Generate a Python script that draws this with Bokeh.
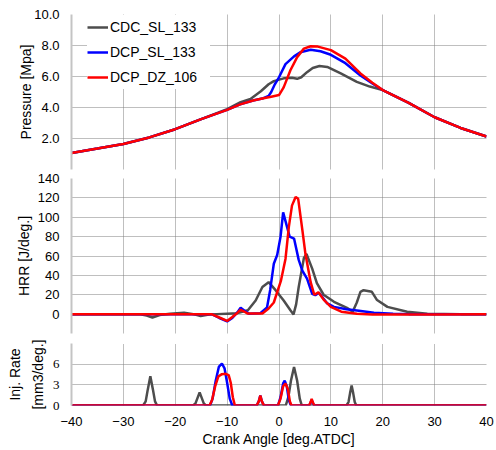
from bokeh.plotting import figure
from bokeh.layouts import column
from bokeh.models import Range1d, FixedTicker, Legend, LegendItem
from bokeh.embed import file_html
from bokeh.resources import INLINE

# ---------------- data ----------------
series_names = ["CDC_SL_133", "DCP_SL_133", "DCP_DZ_106"]
series_colors = ["#4d4d4d", "#0000ff", "#ff0000"]

x_ticks = [-40, -30, -20, -10, 0, 10, 20, 30, 40]

# Pressure [MPa]
cdc_p_ang = [-40, -35, -30, -25, -20, -15, -10, -7.4, -5.5, -3.5, -2, -1, 0.9, 2.5, 3.5,
             4.3, 5.4, 6.5, 7.8, 9.3, 11.9, 15, 17.5, 20, 25, 30, 35, 40]
cdc_p = [1.07, 1.35, 1.65, 2.07, 2.6, 3.25, 3.9, 4.35, 4.55, 5.05, 5.5, 5.7, 5.88, 5.92, 5.85,
         5.95, 6.28, 6.55, 6.68, 6.62, 6.2, 5.65, 5.35, 5.12, 4.3, 3.37, 2.68, 2.13]

dcp_p_ang = [-40, -35, -30, -25, -20, -15, -10, -7.5, -5, -3, -2, -1.5, -0.8, 0, 1.25, 2.9,
             4.1, 6.1, 8, 10, 12.8, 15.7, 18, 20, 25, 30, 35, 40]
dcp_p = [1.07, 1.35, 1.65, 2.07, 2.6, 3.25, 3.85, 4.2, 4.45, 4.6, 4.75, 5.0, 5.5, 5.95, 6.8, 7.3,
         7.57, 7.72, 7.63, 7.4, 6.86, 6.06, 5.55, 5.12, 4.3, 3.37, 2.68, 2.13]

dz_p_ang = [-40, -35, -30, -25, -20, -15, -10, -7.5, -5, -3, -1.5, 0, 0.9, 2.2, 3.5, 4.8,
            6.1, 7.5, 10, 12.8, 15.7, 18, 20, 25, 30, 35, 40]
dz_p = [1.07, 1.35, 1.65, 2.07, 2.6, 3.25, 3.85, 4.2, 4.45, 4.6, 4.7, 4.8, 5.3, 6.4, 7.25, 7.8,
        7.95, 7.93, 7.7, 7.15, 6.2, 5.6, 5.12, 4.3, 3.37, 2.68, 2.13]

p_ticks = [0, 2, 4, 6, 8, 10]
p_tick_labels = ["", "2.0", "4.0", "6.0", "8.0", "10.0"]

# Heat release rate [J/deg]
cdc_h_ang = [-40, -27, -25.5, -24.4, -23, -21, -18.3, -16.5, -15.1, -13.5, -12, -10, -8, -6,
             -4.5, -3.2, -2, -0.7, 0.9, 2.2, 2.8, 3.3, 3.8, 4.8, 5.3, 6.4, 7.3, 8.6, 10.6,
             13.1, 14.2, 15.0, 15.7, 16.3, 17.9, 18.9, 20.9, 24.7, 28.6, 35, 40]
cdc_h = [0, 0, -1.5, -3.5, -1, 0.5, 1.5, 0, -2, -0.5, 0, 0.5, 1, 4,
         14, 28, 33, 25, 14, 4, -0.3, 10, 28, 58, 62, 47, 32, 20, 12.7,
         6.5, 2.5, 12, 23, 24.7, 23, 14.5, 7.5, 2.4, 0.5, 0, 0]

dcp_h_ang = [-40, -13, -11.5, -10, -9, -8, -7.4, -6.5, -5.8, -3.6, -2.3, -1.7, -1.0, -0.35,
             0.3, 0.8, 1.55, 2.05, 2.9, 3.8, 4.5, 5.4, 6.4, 7.0, 7.7, 9.3, 10.6, 13, 15.4,
             18.3, 22, 25, 40]
dcp_h = [0, 0, -4, -7.5, -4, 2, 6.5, 3, 0.5, 1, 7, 25, 52, 61,
         80, 105, 90, 80, 78, 56, 45, 36.7, 21, 19.5, 22, 11, 7.5, 5, 3.5,
         1.5, 0.5, 0, 0]

dz_h_ang = [-40, -13, -11.5, -10, -9, -8, -7.4, -6.5, -6.1, -3.2, -2, -1, 0.35, 1.25, 1.9,
            2.5, 3.2, 3.7, 4.5, 5.1, 6.1, 6.8, 7.6, 8.6, 10, 12, 15, 18, 25, 30, 40]
dz_h = [0, 0, -3.5, -7, -3, 1.5, 4.5, 2, 0.7, 0.7, 5.8, 12, 34, 57, 90,
        112, 121, 119, 87, 62, 33, 20, 22.5, 15, 7.5, 2.5, 0.3, -0.5, -0.5, -0.3, 0]

h_ticks = [-20, 0, 20, 40, 60, 80, 100, 120, 140]
h_tick_labels = ["", "0", "20", "40", "60", "80", "100", "120", "140"]

# Injection rate [mm3/deg]
cdc_i_ang = [-40, -26.2, -25.7, -25.3, -24.8, -24.3, -23.9, -23.5,
             -16.6, -16.1, -15.7, -15.3, -14.9, -14.5, -14.1,
             1.3, 1.8, 2.3, 2.9, 3.5, 4.0, 4.4,
             13.0, 13.4, 13.7, 14.0, 14.3, 14.6, 14.9, 40]
cdc_i = [0, 0, 0.6, 2.3, 4.25, 2.3, 0.6, 0,
         0, 0.3, 1.1, 1.9, 1.1, 0.3, 0,
         0, 1.2, 3.6, 5.6, 3.6, 1.0, 0,
         0, 0.5, 1.8, 2.9, 1.8, 0.5, 0, 0]

dcp_i_ang = [-40, -13.3, -12.8, -12.2, -11.6, -11.0, -10.5, -10.0, -9.5, -9.0,
             -4.3, -3.9, -3.6, -3.3, -2.9,
             -0.2, 0.3, 0.8, 1.1, 1.5, 1.9, 2.3,
             5.8, 6.1, 6.3, 6.5, 6.8, 40]
dcp_i = [0, 0, 1.0, 3.6, 5.6, 6.1, 5.4, 3.3, 1.0, 0,
         0, 0.6, 1.45, 0.6, 0,
         0, 1.2, 3.2, 3.6, 2.8, 0.8, 0,
         0, 0.4, 0.8, 0.4, 0, 0]

dz_i_ang = [-40, -13.4, -12.9, -12.3, -11.7, -11.0, -10.3, -9.7, -9.3, -8.9, -8.5,
            -4.3, -3.9, -3.6, -3.3, -2.9,
            -0.2, 0.3, 0.8, 1.25, 1.7, 2.1, 2.4,
            5.8, 6.1, 6.3, 6.5, 6.8, 40]
dz_i = [0, 0, 0.8, 2.8, 4.2, 4.55, 4.6, 4.4, 3.3, 1.2, 0,
        0, 0.6, 1.45, 0.6, 0,
        0, 1.0, 2.8, 3.2, 2.4, 0.6, 0,
        0, 0.5, 0.95, 0.5, 0, 0]

i_ticks = [0, 3, 6, 9]
i_tick_labels = ["0", "3", "6", ""]

# ---------------- styling ----------------
FONT = "Liberation Sans"
GRID_COLOR = "#7f7f7f"
LW = 2.5


def make_panel(height, y_range, y_ticks, y_labels, y_label, top, bottom,
               with_x=False, label_standoff=4, tick_font=FONT, label_line_height=1.2):
    p = figure(width=496, height=height,
               x_range=Range1d(-40, 40), y_range=Range1d(*y_range),
               output_backend="svg", toolbar_location=None,
               x_axis_location="below" if with_x else None,
               min_border_left=71, min_border_right=10,
               min_border_top=top, min_border_bottom=bottom)
    p.outline_line_color = None
    p.background_fill_color = "white"
    p.border_fill_color = "white"

    p.xgrid.ticker = FixedTicker(ticks=x_ticks)
    p.ygrid.ticker = FixedTicker(ticks=y_ticks)
    for g in (p.xgrid, p.ygrid):
        g.grid_line_color = GRID_COLOR
        g.grid_line_dash = "1 1"
        g.grid_line_width = 1

    ax = p.yaxis[0]
    ax.ticker = FixedTicker(ticks=y_ticks)
    ax.major_label_overrides = {t: l for t, l in zip(y_ticks, y_labels)}
    ax.axis_line_color = "#c4c4c4"
    ax.axis_line_width = 2
    ax.major_tick_line_color = None
    ax.minor_tick_line_color = None
    ax.major_tick_out = 0
    ax.major_tick_in = 0
    ax.major_label_standoff = 12
    ax.major_label_text_font = tick_font
    ax.major_label_text_font_size = "13px"
    ax.major_label_text_color = "black"
    ax.axis_label = y_label
    ax.axis_label_text_font = FONT
    ax.axis_label_text_font_size = "14px"
    ax.axis_label_text_font_style = "normal"
    ax.axis_label_text_color = "black"
    ax.axis_label_text_line_height = label_line_height
    ax.axis_label_standoff = label_standoff

    if with_x:
        xa = p.xaxis[0]
        xa.ticker = FixedTicker(ticks=x_ticks)
        xa.axis_line_color = None
        xa.major_tick_line_color = None
        xa.minor_tick_line_color = None
        xa.major_tick_out = 0
        xa.major_tick_in = 0
        xa.major_label_standoff = 11
        xa.major_label_text_font = FONT
        xa.major_label_text_font_size = "13px"
        xa.major_label_text_color = "black"
        xa.axis_label = "Crank Angle [deg.ATDC]"
        xa.axis_label_text_font = FONT
        xa.axis_label_text_font_size = "14px"
        xa.axis_label_text_font_style = "normal"
        xa.axis_label_text_color = "black"
        xa.axis_label_standoff = 2
    return p


# Pressure panel
p1 = make_panel(170, (0, 10), p_ticks, p_tick_labels, "Pressure [Mpa]", 14, 1, label_standoff=-3)
r_cdc = p1.line(cdc_p_ang, cdc_p, color=series_colors[0], line_width=LW)
r_dcp = p1.line(dcp_p_ang, dcp_p, color=series_colors[1], line_width=LW)
r_dz = p1.line(dz_p_ang, dz_p, color=series_colors[2], line_width=LW)

legend = Legend(items=[LegendItem(label=series_names[0], renderers=[r_cdc]),
                       LegendItem(label=series_names[1], renderers=[r_dcp]),
                       LegendItem(label=series_names[2], renderers=[r_dz])],
                location=(16, 80))
legend.padding = 0
legend.margin = 0
legend.spacing = 1
legend.glyph_width = 21
legend.glyph_height = 24
legend.label_height = 24
legend.label_width = 100
legend.label_standoff = 2
legend.label_text_font = FONT
legend.label_text_font_size = "14px"
legend.label_text_color = "black"
legend.border_line_color = None
legend.background_fill_color = "white"
legend.background_fill_alpha = 1.0
p1.add_layout(legend)

# HRR panel
p2 = make_panel(165, (-20, 140), h_ticks, h_tick_labels, "HRR [J/deg.]", 8, 2, label_standoff=3)
p2.line(cdc_h_ang, cdc_h, color=series_colors[0], line_width=LW)
p2.line(dcp_h_ang, dcp_h, color=series_colors[1], line_width=LW)
p2.line(dz_h_ang, dz_h, color=series_colors[2], line_width=LW)

# Injection rate panel
p3 = make_panel(115, (0, 9), i_ticks, i_tick_labels, "Inj. Rate\n[mm3/deg.]", 8, 45,
                with_x=True, label_standoff=4, tick_font="Liberation Serif",
                label_line_height=1.45)
p3.line(cdc_i_ang, cdc_i, color=series_colors[0], line_width=LW)
p3.line(dcp_i_ang, dcp_i, color=series_colors[1], line_width=LW)
p3.line(dz_i_ang, dz_i, color=series_colors[2], line_width=LW)

layout = column(p1, p2, p3, spacing=0)

open("out.html", "w").write(file_html(layout, INLINE))
